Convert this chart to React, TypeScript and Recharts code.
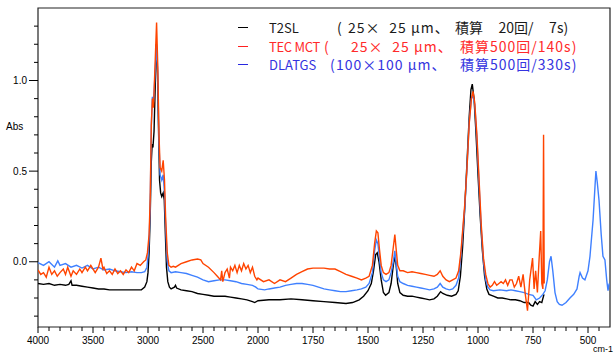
import React from 'react';
import { LineChart, Line, XAxis, YAxis, ReferenceArea } from 'recharts';

type Pt = [number, number];

// [wavenumber cm-1, absorbance]
const t2sl: Pt[] = [
  [4000,-0.12],[3950,-0.125],[3900,-0.12],[3850,-0.13],[3800,-0.125],[3750,-0.13],[3720,-0.125],[3700,-0.105],[3690,-0.13],
  [3650,-0.13],[3600,-0.135],[3550,-0.14],[3500,-0.145],[3450,-0.15],[3400,-0.15],[3350,-0.155],[3300,-0.155],[3250,-0.155],
  [3200,-0.155],[3150,-0.155],[3100,-0.155],[3060,-0.155],[3030,-0.14],[3010,-0.11],[3000,-0.06],[2990,0.05],[2980,0.25],
  [2970,0.55],[2962,0.65],[2955,0.63],[2945,0.72],[2935,0.95],[2925,1.2],[2915,1.08],[2905,0.75],[2895,0.45],[2885,0.38],
  [2875,0.36],[2862,0.38],[2852,0.34],[2842,0.15],[2832,-0.03],[2820,-0.11],[2805,-0.14],[2790,-0.15],[2760,-0.14],
  [2750,-0.13],[2740,-0.145],[2700,-0.155],[2650,-0.16],[2600,-0.165],[2550,-0.175],[2500,-0.18],[2450,-0.185],[2400,-0.19],
  [2350,-0.19],[2300,-0.19],[2250,-0.195],[2200,-0.2],[2150,-0.205],[2100,-0.21],[2050,-0.22],[2030,-0.225],[2000,-0.215],
  [1950,-0.21],[1900,-0.21],[1850,-0.205],[1800,-0.21],[1750,-0.215],[1700,-0.22],[1650,-0.225],[1600,-0.23],[1570,-0.225],
  [1540,-0.21],[1520,-0.19],[1500,-0.16],[1485,-0.12],[1475,-0.05],[1465,0.04],[1458,0.05],[1450,0.0],[1440,-0.1],
  [1430,-0.17],[1420,-0.185],[1405,-0.17],[1395,-0.12],[1385,-0.02],[1378,0.03],[1372,-0.02],[1365,-0.12],[1355,-0.17],
  [1340,-0.185],[1320,-0.19],[1300,-0.19],[1280,-0.195],[1260,-0.2],[1240,-0.205],[1220,-0.21],[1200,-0.205],[1185,-0.19],
  [1170,-0.165],[1160,-0.175],[1140,-0.185],[1120,-0.19],[1100,-0.18],[1090,-0.16],[1080,-0.08],[1070,0.08],[1060,0.3],
  [1050,0.55],[1040,0.8],[1032,0.95],[1026,0.98],[1018,0.9],[1010,0.73],[1000,0.48],[990,0.25],[980,0.06],[970,-0.08],
  [960,-0.15],[950,-0.18],[930,-0.19],[910,-0.2],[890,-0.2],[870,-0.205],[850,-0.21],[830,-0.21],[810,-0.215],[790,-0.225],
  [770,-0.225],[760,-0.24],[750,-0.245],[740,-0.22],[730,-0.235],[720,-0.22],[710,-0.225],[700,-0.18],
];

const tecMct: Pt[] = [
  [4000,-0.045],[3975,-0.07],[3950,-0.06],[3925,-0.085],[3900,-0.03],[3875,-0.07],[3850,-0.05],[3825,-0.08],[3800,-0.06],
  [3770,-0.04],[3750,-0.07],[3730,-0.03],[3700,-0.08],[3680,-0.05],[3650,-0.07],[3620,-0.04],[3600,-0.06],[3570,-0.03],
  [3550,-0.05],[3520,-0.02],[3480,-0.06],[3450,-0.03],[3428,0.02],[3410,-0.04],[3400,-0.03],[3375,-0.065],[3350,-0.05],
  [3325,-0.07],[3300,-0.04],[3275,-0.065],[3250,-0.05],[3225,-0.07],[3200,-0.045],[3175,-0.06],[3150,-0.03],[3125,-0.05],
  [3100,-0.01],[3070,-0.02],[3040,0.0],[3020,0.01],[3005,0.05],[2990,0.15],[2980,0.35],[2970,0.75],[2960,0.9],[2950,0.85],
  [2935,1.1],[2922,1.32],[2912,1.1],[2900,0.7],[2890,0.52],[2875,0.5],[2862,0.56],[2850,0.45],[2840,0.25],[2825,0.05],
  [2810,-0.02],[2790,-0.03],[2770,-0.025],[2750,-0.03],[2700,-0.01],[2650,0.0],[2600,0.01],[2550,0.015],[2520,0.01],
  [2500,-0.01],[2450,-0.03],[2400,-0.06],[2370,-0.08],[2340,-0.1],[2330,-0.05],[2320,-0.11],[2300,-0.06],[2280,-0.04],
  [2260,-0.09],[2250,-0.03],[2230,-0.05],[2210,-0.02],[2190,-0.06],[2170,-0.02],[2150,-0.05],[2130,-0.01],[2110,-0.04],
  [2090,-0.02],[2070,-0.06],[2050,-0.03],[2030,-0.08],[2010,-0.1],[2000,-0.09],[1975,-0.11],[1950,-0.1],[1925,-0.12],
  [1900,-0.1],[1875,-0.11],[1850,-0.09],[1825,-0.07],[1800,-0.055],[1775,-0.04],[1750,-0.035],[1725,-0.035],[1700,-0.035],
  [1675,-0.04],[1650,-0.04],[1625,-0.055],[1600,-0.07],[1575,-0.08],[1550,-0.09],[1530,-0.1],[1510,-0.09],[1495,-0.08],
  [1480,-0.02],[1470,0.1],[1462,0.17],[1455,0.16],[1448,0.07],[1440,-0.02],[1430,-0.06],[1418,-0.07],[1405,-0.06],
  [1395,-0.02],[1385,0.08],[1378,0.15],[1372,0.07],[1365,-0.02],[1355,-0.05],[1340,-0.05],[1320,-0.06],[1300,-0.055],
  [1280,-0.06],[1260,-0.065],[1240,-0.07],[1220,-0.075],[1200,-0.08],[1185,-0.07],[1172,-0.05],[1160,-0.08],[1145,-0.1],
  [1130,-0.11],[1115,-0.1],[1100,-0.09],[1088,-0.05],[1078,0.05],[1068,0.2],[1060,0.32],[1050,0.52],[1040,0.76],[1030,0.9],
  [1023,0.94],[1015,0.88],[1005,0.7],[995,0.45],[985,0.2],[975,0.02],[965,-0.07],[955,-0.12],[945,-0.14],[935,-0.13],
  [925,-0.11],[915,-0.13],[905,-0.12],[895,-0.11],[885,-0.12],[875,-0.1],[865,-0.13],[855,-0.1],[845,-0.1],[835,-0.14],
  [825,-0.12],[815,-0.08],[805,-0.14],[795,-0.07],[785,-0.18],[775,-0.27],[765,-0.1],[752,0.02],[745,-0.15],[738,-0.05],
  [730,-0.17],[722,0.02],[715,0.17],[710,-0.12],[705,-0.15],[702,0.7],[699,-0.12],
];

const dlatgs: Pt[] = [
  [4000,-0.005],[3950,-0.02],[3900,0.0],[3850,-0.03],[3820,0.005],[3800,-0.02],[3750,-0.01],[3700,-0.03],[3650,-0.02],
  [3600,-0.035],[3550,-0.02],[3500,-0.04],[3450,-0.03],[3400,-0.045],[3350,-0.04],[3300,-0.05],[3250,-0.055],[3200,-0.06],
  [3150,-0.055],[3100,-0.06],[3060,-0.06],[3030,-0.055],[3010,-0.03],[3000,0.03],[2990,0.12],[2980,0.3],[2970,0.75],
  [2960,0.91],[2950,0.88],[2935,1.05],[2922,1.2],[2912,1.05],[2900,0.65],[2890,0.48],[2875,0.45],[2862,0.48],[2850,0.38],
  [2840,0.2],[2825,0.0],[2810,-0.05],[2790,-0.06],[2750,-0.055],[2700,-0.06],[2650,-0.065],[2600,-0.075],[2550,-0.085],
  [2500,-0.1],[2450,-0.11],[2400,-0.105],[2350,-0.1],[2300,-0.1],[2250,-0.105],[2200,-0.11],[2150,-0.12],[2100,-0.125],
  [2050,-0.13],[2020,-0.14],[2000,-0.15],[1970,-0.155],[1950,-0.15],[1925,-0.145],[1900,-0.14],[1875,-0.13],[1850,-0.125],
  [1825,-0.12],[1800,-0.12],[1775,-0.125],[1750,-0.13],[1725,-0.14],[1700,-0.15],[1675,-0.155],[1650,-0.16],[1625,-0.165],
  [1600,-0.165],[1575,-0.16],[1550,-0.155],[1530,-0.15],[1510,-0.14],[1495,-0.12],[1480,-0.06],[1470,0.06],[1462,0.12],
  [1455,0.1],[1448,0.02],[1440,-0.06],[1430,-0.1],[1418,-0.11],[1405,-0.1],[1395,-0.06],[1385,0.0],[1378,0.06],[1372,-0.01],
  [1365,-0.08],[1355,-0.11],[1340,-0.12],[1320,-0.13],[1300,-0.135],[1280,-0.14],[1260,-0.145],[1240,-0.15],[1220,-0.155],
  [1200,-0.15],[1185,-0.14],[1172,-0.12],[1160,-0.14],[1145,-0.15],[1130,-0.155],[1115,-0.15],[1100,-0.13],[1088,-0.09],
  [1078,0.03],[1068,0.18],[1060,0.3],[1050,0.52],[1040,0.77],[1030,0.9],[1024,0.92],[1015,0.87],[1005,0.68],[995,0.42],
  [985,0.18],[975,0.0],[965,-0.1],[955,-0.14],[945,-0.155],[930,-0.16],[900,-0.155],[870,-0.16],[850,-0.155],[830,-0.16],
  [810,-0.165],[790,-0.17],[770,-0.18],[750,-0.185],[735,-0.21],[720,-0.2],[705,-0.18],[695,-0.16],[685,-0.1],[675,0.0],
  [668,0.03],[660,-0.05],[650,-0.17],[640,-0.22],[630,-0.235],[618,-0.24],[600,-0.225],[582,-0.2],[565,-0.18],[550,-0.15],
  [540,-0.08],[536,-0.06],[525,-0.09],[514,-0.1],[500,-0.05],[491,0.03],[477,0.23],[468,0.42],[464,0.5],[458,0.44],
  [450,0.34],[440,0.15],[432,0.03],[423,0.01],[415,-0.1],[409,-0.16],[404,-0.12],
];

const xLabelTicks = [4000, 3500, 3000, 2500, 2000, 1750, 1500, 1250, 1000, 750, 500];
const yLabelTicks = [0, 0.5, 1.0];

const legendNames = ['T2SL', 'TEC MCT', 'DLATGS'];
const legendSizes = ['25×\u200725 µm、', '25×\u200725 µm、', '100×100 µm、'];
const legendScans = ['積算\u2007\u200720回/\u2007\u20077s)', '積算500回/140s)', '積算500回/330s)'];
const legendDash = ['#000000', '#ff2020', '#2828e0'];
const legendText = ['#1a1a1a', '#ff2a2a', '#3434e0'];
const lineColors = ['#000000', '#ff4400', '#3f80ff'];

// legend column positions (px) and letter spacing
const parenX = [337, 324, 330];
const sizeX = [348, 351, 336];
const scanX = [455, 460, 460];
const scanSpacing = [0, 1, 1];

// two-segment wavenumber axis (scale doubles below 2000 cm-1)
const toU = (wn: number) => (wn >= 2000 ? (4000 - wn) / 2 : 1000 + (2000 - wn));
const fromU = (u: number) => (u <= 1000 ? 4000 - 2 * u : 2000 - (u - 1000));
const rows = (pts: Pt[]) => pts.map(([wn, v]) => ({ u: toU(wn), v }));

const xTickWn: number[] = [];
for (let w = 4000; w >= 2000; w -= 100) xTickWn.push(w);
for (let w = 1950; w >= 450; w -= 50) xTickWn.push(w);
const xTicks = xTickWn.map(toU);
const yTicks: number[] = [];
for (let i = -3; i <= 13; i++) yTicks.push(i / 10);

const FONT = '"Liberation Sans", Arial, sans-serif';
const JP = '"Noto Sans CJK JP", sans-serif';

const XTick = (props: any) => {
  const { x, y, payload } = props;
  const wn = Math.round(fromU(payload.value));
  const major = xLabelTicks.includes(wn);
  return (
    <g>
      <line x1={x} x2={x} y1={y} y2={y + (major ? 6 : 4)} stroke="#000" strokeWidth={1} />
      {major && (
        <text x={x} y={y + 17} textAnchor="middle" fontSize={10} fontFamily={FONT} fill="#000">
          {wn}
        </text>
      )}
    </g>
  );
};

const YTick = (props: any) => {
  const { x, y, payload } = props;
  const v = payload.value as number;
  const major = yLabelTicks.some((t) => Math.abs(t - v) < 1e-6);
  return (
    <g>
      <line x1={x - (major ? 9 : 4)} x2={x} y1={y} y2={y} stroke="#000" strokeWidth={1} />
      {major && (
        <text x={x - 11} y={y + 3.5} textAnchor="end" fontSize={10} fontFamily={FONT} fill="#000">
          {v.toFixed(1)}
        </text>
      )}
    </g>
  );
};

const series = [t2sl, tecMct, dlatgs];
const drawOrder = [0, 2, 1];

const seg = (left: number, top: number, color: string, text: string, key: string, fontSize = 14, spacing = 0) => (
  <div
    key={key}
    style={{
      position: 'absolute',
      left,
      top,
      height: 19,
      fontSize,
      lineHeight: '19px',
      fontFamily: JP,
      whiteSpace: 'pre',
      letterSpacing: spacing,
      color,
    }}
  >
    {text}
  </div>
);

export default function App() {
  return (
    <div style={{ position: 'absolute', left: 0, top: 0, width: 614, height: 353, background: '#fff', overflow: 'hidden' }}>
      <LineChart width={614} height={353} margin={{ top: 8, right: 4, left: 0, bottom: 0 }}>
        <XAxis
          type="number"
          dataKey="u"
          domain={[0, 2600]}
          ticks={xTicks}
          interval={0}
          allowDataOverflow
          axisLine={false}
          tickLine={false}
          tickSize={0}
          tickMargin={0}
          height={26}
          tick={<XTick />}
        />
        <YAxis
          type="number"
          domain={[-0.36, 1.4]}
          ticks={yTicks}
          interval={0}
          allowDataOverflow
          axisLine={false}
          tickLine={false}
          tickSize={0}
          tickMargin={0}
          width={38}
          tick={<YTick />}
        />
        <ReferenceArea x1={0} x2={2600} y1={-0.36} y2={1.4} fill="none" stroke="#222" strokeWidth={1.2} ifOverflow="visible" />
        {drawOrder.map((i) => (
          <Line
            key={i}
            data={rows(series[i])}
            dataKey="v"
            type="linear"
            dot={false}
            activeDot={false}
            stroke={lineColors[i]}
            strokeWidth={1.4}
            isAnimationActive={false}
          />
        ))}
      </LineChart>
      <div style={{ position: 'absolute', left: 6, top: 121, fontSize: 10, fontFamily: FONT }}>Abs</div>
      <div style={{ position: 'absolute', right: 1, top: 344, fontSize: 9, lineHeight: '10px', fontFamily: FONT }}>cm-1</div>
      {legendNames.map((n, i) => {
        const top = 18 + i * 18.5;
        return (
          <React.Fragment key={n}>
            <div style={{ position: 'absolute', left: 238, top: top + 9, width: 10, height: 1.2, background: legendDash[i] }} />
            {seg(269, top, legendText[i], n, 'n', 13, i === 1 ? -0.3 : 0)}
            {seg(parenX[i], top, legendText[i], '(', 'p')}
            {seg(sizeX[i], top, legendText[i], legendSizes[i], 's', 14, 1)}
            {seg(scanX[i], top, legendText[i], legendScans[i], 'c', 14, scanSpacing[i])}
          </React.Fragment>
        );
      })}
    </div>
  );
}
